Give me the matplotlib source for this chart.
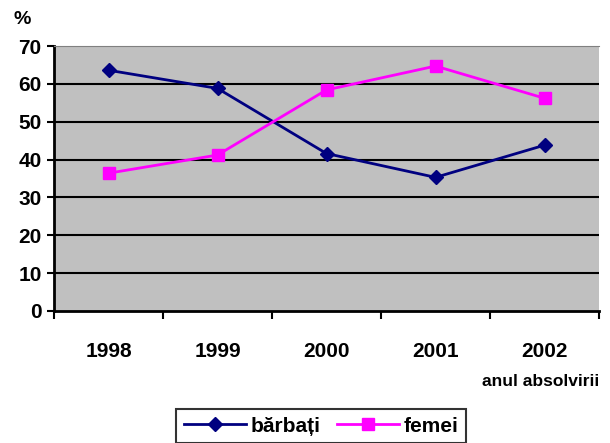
import matplotlib.pyplot as plt
from matplotlib.ticker import FixedLocator

plt.rcParams['font.family'] = ['Liberation Sans', 'DejaVu Sans']
plt.rcParams['font.weight'] = 'bold'

years = ['1998', '1999', '2000', '2001', '2002']
barbati = [63.6, 58.8, 41.6, 35.3, 43.8]
femei = [36.4, 41.2, 58.4, 64.7, 56.2]

fig = plt.figure(figsize=(6.1, 4.43), dpi=100)
ax = fig.add_axes([54 / 610, 1 - 311 / 443, 545 / 610, 265 / 443])
ax.set_facecolor('#c0c0c0')

x = range(len(years))
ax.plot(x, barbati, color='#000080', lw=2, marker='D', ms=7, label='bărbați')
ax.plot(x, femei, color='#ff00ff', lw=2, marker='s', ms=8, label='femei')

ax.set_xlim(-0.5, len(years) - 0.5)
ax.set_ylim(0, 70)
ax.set_yticks(range(0, 71, 10))
for v in range(10, 70, 10):
    ax.axhline(v, color='black', lw=1.5, zorder=0.5)

ax.xaxis.set_major_locator(FixedLocator([i - 0.5 for i in range(len(years) + 1)]))
ax.xaxis.set_minor_locator(FixedLocator(list(x)))
ax.xaxis.set_major_formatter(plt.NullFormatter())
ax.set_xticklabels(years, minor=True)
ax.tick_params(axis='x', which='major', length=6, width=1.5, direction='out')
ax.tick_params(axis='x', which='minor', length=0, pad=22, labelsize=15)
ax.tick_params(axis='y', length=5, width=1.5, labelsize=15, pad=4)

for s in ['left', 'bottom']:
    ax.spines[s].set_linewidth(2)
ax.spines['top'].set_color('#808080')
ax.spines['right'].set_visible(False)

fig.text(22 / 610, 1 - 20 / 443, '%', fontsize=14, ha='center', va='center')
fig.text(599 / 610, 1 - 381 / 443, 'anul absolvirii', fontsize=12.5, ha='right', va='center')

leg = ax.legend(loc='center', bbox_to_anchor=(321 / 610, 1 - 426 / 443),
                bbox_transform=fig.transFigure, ncol=2, frameon=True, fancybox=False,
                edgecolor='black', fontsize=15, handlelength=3, columnspacing=0.8,
                borderpad=0.35, handletextpad=0.2)
leg.get_frame().set_linewidth(1.5)

fig.savefig('out.png', dpi=100, facecolor='white')
